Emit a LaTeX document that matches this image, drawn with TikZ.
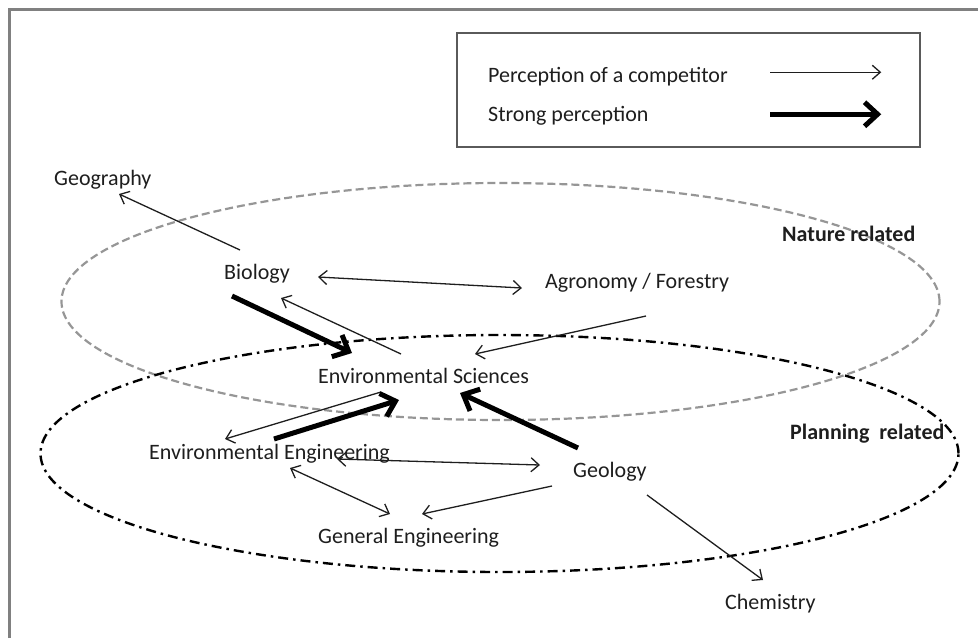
\documentclass[tikz,border=0pt]{standalone}
\usepackage{fontspec}
\setmainfont{Carlito}
\usetikzlibrary{arrows.meta}
\definecolor{txt}{RGB}{30,30,30}
\definecolor{framecol}{RGB}{128,128,128}
\definecolor{legcol}{RGB}{90,90,90}
\definecolor{natcol}{RGB}{150,150,150}
\begin{document}
\begin{tikzpicture}[x=1pt,y=-1pt,
  lbl/.style={inner sep=0pt, anchor=base west, text=txt, font=\fontsize{22}{26}\selectfont},
  blbl/.style={lbl, font=\fontsize{22}{26}\selectfont\bfseries},
  thinarr/.style={line width=1.3pt, draw=txt, -{Straight Barb[length=8pt,width=14pt]}},
  botharr/.style={line width=1.3pt, draw=txt, {Straight Barb[length=8pt,width=14pt]}-{Straight Barb[length=8pt,width=14pt]}},
  thickarr/.style={line width=5pt, draw=black, -{Straight Barb[length=13pt,width=24pt]}},
  natring/.style={draw=natcol, line width=2.2pt, dash pattern=on 8pt off 4pt},
  planring/.style={draw=black, line width=2.4pt, dash pattern=on 10pt off 5pt on 2.5pt off 5pt}
]
\useasboundingbox (0,0) rectangle (978,638);
% outer frame
\draw[framecol, line width=2.5pt] (9.5,638) -- (9.5,9.5) -- (978,9.5);
% legend
\node[draw=legcol, line width=1.5pt, minimum width=463pt, minimum height=114pt, inner sep=0pt] (leg) at (688.5,90) {};
\node[lbl] (l1) at (488,82) {Perception of a competitor};
\node[lbl] (l2) at (488,121) {Strong perception};
\draw[thinarr] ([shift={(314,40)}]leg.north west) -- ([shift={(425,40)}]leg.north west);
\draw[thickarr] ([shift={(314,82)}]leg.north west) -- ([shift={(425,82)}]leg.north west);
% groups
\draw[natring] (500.5,301.5) ellipse [x radius=439pt, y radius=118.5pt];
\draw[planring] (499.5,453.5) ellipse [x radius=459pt, y radius=118.5pt];
\node[blbl] (nat) at (782,241) {Nature related};
\node[blbl] (plan) at (790,439) {Planning\ \ related};
% disciplines
\node[lbl] (geo) at (54,185) {Geography};
\node[lbl] (bio) at (224,279) {Biology};
\node[lbl] (agr) at (545,288) {Agronomy / Forestry};
\node[lbl] (es) at (318,383) {Environmental Sciences};
\node[lbl] (ee) at (149,459) {Environmental Engineering};
\node[lbl] (gl) at (573,477) {Geology};
\node[lbl] (ge) at (318,543) {General Engineering};
\node[lbl] (ch) at (725,609) {Chemistry};
% connectors
\draw[thinarr] ([shift={(16,-29)}]bio.base west) -- ([shift={(65,9)}]geo.base west);
\draw[botharr] ([shift={(94,-2)}]bio.base west) -- ([shift={(-23,0)}]agr.base west);
\draw[thinarr] ([shift={(83,-29)}]es.base west) -- ([shift={(57,19)}]bio.base west);
\draw[thickarr] ([shift={(8,17)}]bio.base west) -- ([shift={(34,-30)}]es.base west);
\draw[thinarr] ([shift={(101,28)}]agr.base west) -- ([shift={(157,-29)}]es.base west);
\draw[thinarr] ([shift={(63,9)}]es.base west) -- ([shift={(76,-20)}]ee.base west);
\draw[thickarr] ([shift={(125,-20)}]ee.base west) -- ([shift={(81,17)}]es.base west);
\draw[thickarr] ([shift={(5,-29)}]gl.base west) -- ([shift={(142,10)}]es.base west);
\draw[botharr] ([shift={(188,0)}]ee.base west) -- ([shift={(-33,-12)}]gl.base west);
\draw[botharr] ([shift={(141,9)}]ee.base west) -- ([shift={(72,-29)}]ge.base west);
\draw[thinarr] ([shift={(-21,9)}]gl.base west) -- ([shift={(104,-29)}]ge.base west);
\draw[thinarr] ([shift={(74,18)}]gl.base west) -- ([shift={(38,-29)}]ch.base west);
\end{tikzpicture}
\end{document}
